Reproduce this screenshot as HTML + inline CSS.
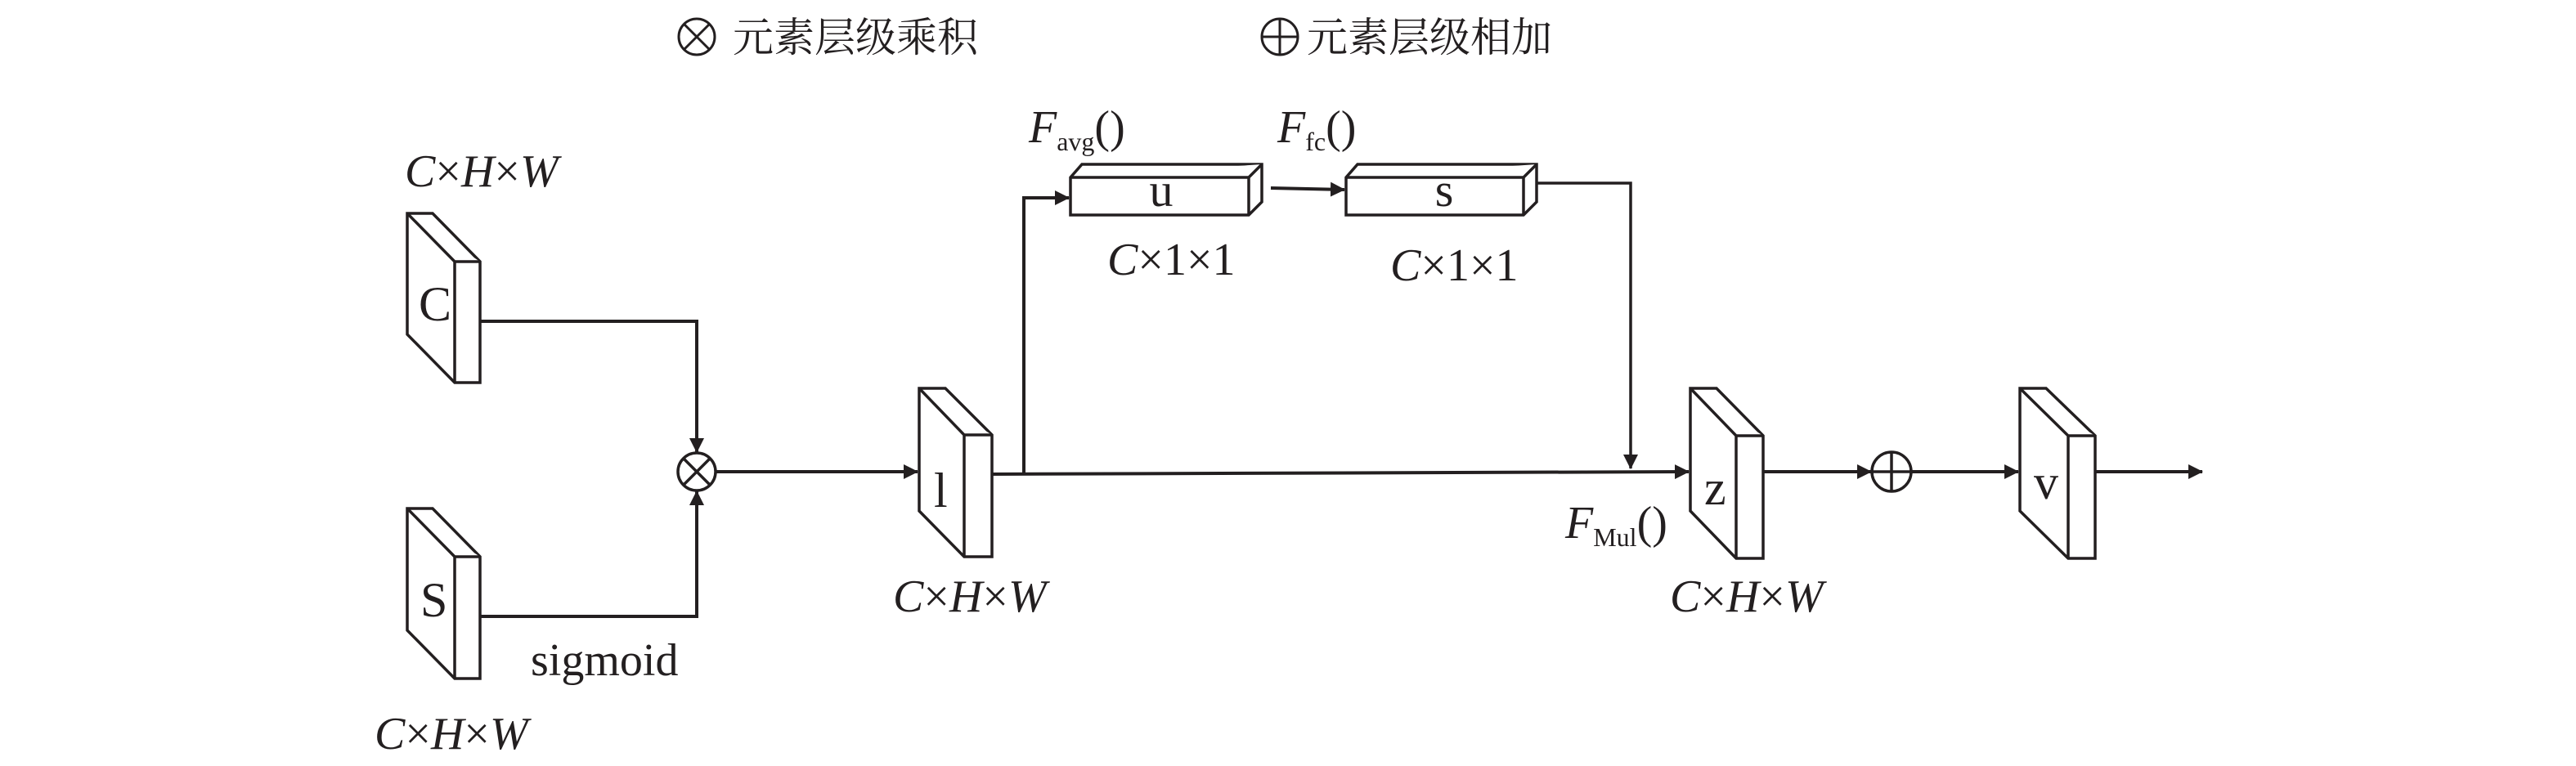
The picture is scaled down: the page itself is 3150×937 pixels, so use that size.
<!DOCTYPE html>
<html><head><meta charset="utf-8"><style>
html,body{margin:0;padding:0;background:#fff;}
svg{display:block;}
text{font-family:"Liberation Serif","Noto Serif CJK SC",serif;fill:#231f20;}
.i{font-style:italic;}
</style></head><body>
<svg width="3150" height="937" viewBox="0 0 3150 937" xmlns="http://www.w3.org/2000/svg">
<defs>
<marker id="a" markerWidth="18" markerHeight="18" refX="17" refY="9" orient="auto" markerUnits="userSpaceOnUse">
<path d="M0,0 L18,9 L0,18 Z" fill="#231f20"/>
</marker>
</defs>
<g stroke="#231f20" stroke-width="3.5" fill="#fff" stroke-linejoin="miter">
<path d="M498,261 L529,261 L587,320 L587,468 L556,468 L498,409 Z"/>
<path d="M498,261 L556,320 L587,320 M556,320 L556,468"/>
<path d="M498,622 L529,622 L587,681 L587,830 L556,830 L498,771 Z"/>
<path d="M498,622 L556,681 L587,681 M556,681 L556,830"/>
<path d="M1124,475 L1156,475 L1213,532 L1213,681 L1179,681 L1124,625 Z"/>
<path d="M1124,475 L1179,532 L1213,532 M1179,532 L1179,681"/>
<path d="M2067,475 L2099,475 L2156,533 L2156,683 L2123,683 L2067,625 Z"/>
<path d="M2067,475 L2123,533 L2156,533 M2123,533 L2123,683"/>
<path d="M2470,475 L2502,475 L2562,533 L2562,683 L2529,683 L2470,625 Z"/>
<path d="M2470,475 L2529,533 L2562,533 M2529,533 L2529,683"/>
<path d="M1309,217 L1323,201 L1543,201 L1543,247 L1527,263 L1309,263 Z"/>
<path d="M1309,217 L1527,217 L1543,201 M1527,217 L1527,263"/>
<path d="M1646,217 L1660,201 L1879,201 L1879,247 L1863,263 L1646,263 Z"/>
<path d="M1646,217 L1863,217 L1879,201 M1863,217 L1863,263"/>
</g>
<g stroke="#231f20" stroke-width="4" fill="none">
<path d="M587,393 L852,393 L852,553" marker-end="url(#a)"/>
<path d="M587,754 L852,754 L852,601" marker-end="url(#a)"/>
<path d="M876,577 L1122,577" marker-end="url(#a)"/>
<path d="M1213,580 L2065,577" marker-end="url(#a)"/>
<path d="M1252,580 L1252,242 L1307,242" marker-end="url(#a)"/>
<path d="M1554,230 L1644,232" marker-end="url(#a)"/>
<path d="M1879,224 L1994,224 L1994,573" marker-end="url(#a)" stroke-width="3.5"/>
<path d="M2156,577 L2288,577" marker-end="url(#a)"/>
<path d="M2337,577 L2468,577" marker-end="url(#a)"/>
<path d="M2562,577 L2693,577" marker-end="url(#a)"/>
<circle cx="852" cy="577" r="23" fill="#fff" stroke-width="3.5"/>
<path d="M836,561 L868,593 M868,561 L836,593" stroke-width="3.5"/>
<circle cx="2313" cy="577" r="24" fill="#fff" stroke-width="3.5"/>
<path d="M2289,577 L2337,577 M2313,553 L2313,601" stroke-width="3.5"/>
<circle cx="852" cy="45" r="22" stroke-width="3"/>
<path d="M837,30 L867,60 M867,30 L837,60" stroke-width="3"/>
<circle cx="1565" cy="45" r="22" stroke-width="3"/>
<path d="M1543,45 L1587,45 M1565,23 L1565,67" stroke-width="3"/>
</g>
<g font-size="56">
<text x="896" y="63" font-size="50" font-family="Noto Serif CJK SC,serif">元素层级乘积</text>
<text x="1598" y="63" font-size="50" font-family="Noto Serif CJK SC,serif">元素层级相加</text>
<text x="512" y="392" font-size="60">C</text>
<text x="514" y="754" font-size="60">S</text>
<text x="1142" y="620" font-size="60">l</text>
<text x="2084" y="617" font-size="60">z</text>
<text x="2487" y="610" font-size="60">v</text>
<text x="1420" y="252" text-anchor="middle" font-size="58">u</text>
<text x="1766" y="252" text-anchor="middle" font-size="58">s</text>
<text x="649" y="826">sigmoid</text>
<text class="i" x="495" y="228">C<tspan font-style="normal">×</tspan>H<tspan font-style="normal">×</tspan>W</text>
<text class="i" x="458" y="916">C<tspan font-style="normal">×</tspan>H<tspan font-style="normal">×</tspan>W</text>
<text class="i" x="1092" y="748">C<tspan font-style="normal">×</tspan>H<tspan font-style="normal">×</tspan>W</text>
<text class="i" x="2042" y="748">C<tspan font-style="normal">×</tspan>H<tspan font-style="normal">×</tspan>W</text>
<text class="i" x="1354" y="336">C<tspan font-style="normal">×1×1</tspan></text>
<text class="i" x="1700" y="343">C<tspan font-style="normal">×1×1</tspan></text>
<text class="i" x="1258" y="174">F<tspan font-style="normal" font-size="32" dy="10">avg</tspan><tspan font-style="normal" dy="-10">()</tspan></text>
<text class="i" x="1562" y="174">F<tspan font-style="normal" font-size="32" dy="10">fc</tspan><tspan font-style="normal" dy="-10">()</tspan></text>
<text class="i" x="1914" y="658">F<tspan font-style="normal" font-size="32" dy="10">Mul</tspan><tspan font-style="normal" dy="-10">()</tspan></text>
</g>
</svg>
</body></html>
